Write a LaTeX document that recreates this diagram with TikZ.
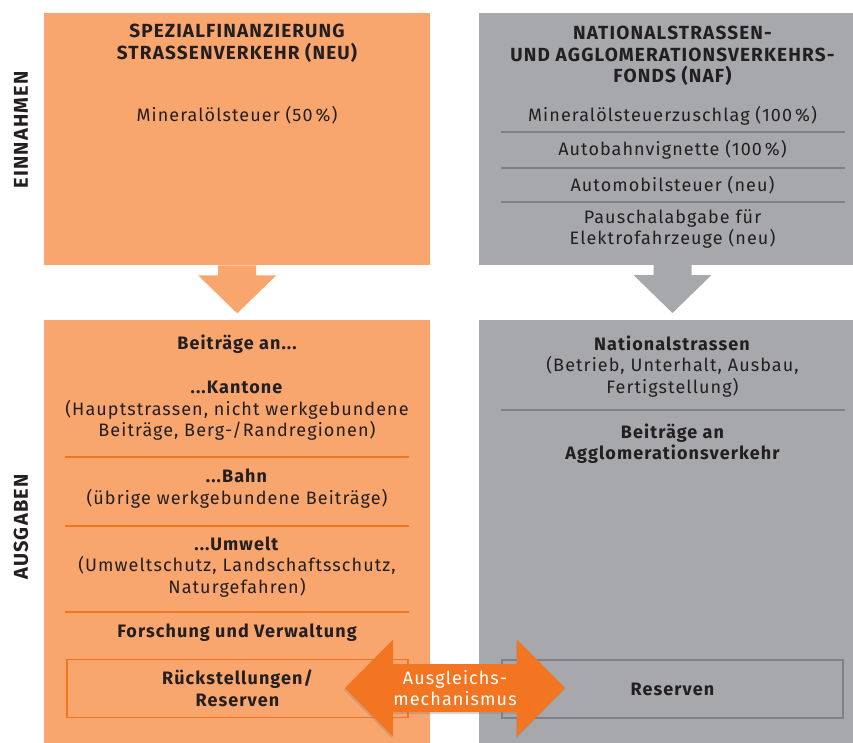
\documentclass[tikz,border=0pt]{standalone}
\usepackage{fontspec}
\setmainfont{Fira Sans}[LetterSpace=6]
\usetikzlibrary{shadows}
\definecolor{orangelight}{RGB}{248,166,110}
\definecolor{orangedark}{RGB}{243,117,33}
\definecolor{greybox}{RGB}{167,168,171}
\definecolor{greyline}{RGB}{128,129,132}
\definecolor{textdark}{RGB}{35,31,32}

\begin{document}
\begin{tikzpicture}[
  x=1pt, y=-1pt,
  panel/.style={anchor=north west, inner sep=0pt, minimum width=386},
  obox/.style={panel, fill=orangelight},
  gbox/.style={panel, fill=greybox},
  txt/.style={align=center, text=textdark, inner sep=0pt,
              font=\fontsize{18}{21.5}\selectfont},
  head/.style={txt, font=\fontsize{18}{21.5}\selectfont\bfseries},
  title/.style={txt, font=\fontsize{19}{21.5}\selectfont\bfseries},
  side/.style={head, rotate=90, font=\fontsize{20}{22}\selectfont\bfseries},
  osep/.style={draw=orangedark, line width=2pt},
  gsep/.style={draw=greyline, line width=2pt},
  resbox/.style={head, line width=1.5pt, minimum width=341, minimum height=58}
]
\useasboundingbox (0,0) rectangle (853,743);
\clip (0,0) rectangle (853,743);

% Einnahmen
\node[obox, minimum height=252] (spez) at (44,13) {};
\node[gbox, minimum height=252] (naf) at (479,13) {};
\node[side] (einnahmen) at (21,130) {EINNAHMEN};

\node[title] (spezhead) at (237,43.5) {SPEZIALFINANZIERUNG\\STRASSENVERKEHR (NEU)};
\node[txt] (mineral) at (237,115) {Mineralölsteuer (50\,\%)};

\node[title] (nafhead) at (672.5,56) {NATIONALSTRASSEN-\\UND AGGLOMERATIONSVERKEHRS-\\FONDS (NAF)};
\node[txt] (zuschlag) at (672.5,116) {Mineralölsteuerzuschlag (100\,\%)};
\node[txt] (vignette) at (672.5,150) {Autobahnvignette (100\,\%)};
\node[txt] (autosteuer) at (672.5,185) {Automobilsteuer (neu)};
\node[txt] (pauschal) at (672.5,229) {Pauschalabgabe für\\Elektrofahrzeuge (neu)};
\draw[gsep] (501,132) -- (845,132);
\draw[gsep] (501,168) -- (845,168);
\draw[gsep] (501,202) -- (845,202);

% Pfeile nach unten
\fill[orangelight] (spez.south) ++(-19,0) -- ++(0,10) -- ++(-20,0) -- ++(39,38)
  -- ++(39,-38) -- ++(-20,0) -- ++(0,-10) -- cycle;
\fill[greybox] (672.5,265) ++(-19,0) -- ++(0,10) -- ++(-20,0) -- ++(39,38)
  -- ++(39,-38) -- ++(-20,0) -- ++(0,-10) -- cycle;

% Ausgaben
\node[obox, minimum height=430] (sfsv) at (44,320) {};
\node[gbox, minimum height=430] (fonds) at (479,320) {};
\node[side] (ausgaben) at (21,527) {AUSGABEN};

\node[head] (beitraege) at (237,344) {Beiträge an...};
\node[txt] (kantone) at (237,411) {\textbf{...Kantone}\\(Hauptstrassen, nicht werkgebundene\\Beiträge, Berg-/Randregionen)};
\draw[osep] (65,457) -- (409,457);
\node[txt] (bahn) at (237,488.5) {\textbf{...Bahn}\\(übrige werkgebundene Beiträge)};
\draw[osep] (65,526) -- (409,526);
\node[txt] (umwelt) at (237,567) {\textbf{...Umwelt}\\(Umweltschutz, Landschaftsschutz,\\Naturgefahren)};
\draw[osep] (65,612) -- (409,612);
\node[head] (forschung) at (237,633) {Forschung und Verwaltung};
\node[resbox, draw=orangedark] (rueck) at (237.5,688.5) {Rückstellungen/\\Reserven};

\node[txt] (national) at (672.5,366.5) {\textbf{Nationalstrassen}\\(Betrieb, Unterhalt, Ausbau,\\Fertigstellung)};
\draw[gsep] (501,410) -- (845,410);
\node[head] (agglo) at (672.5,443.5) {Beiträge an\\Agglomerationsverkehr};
\node[resbox, draw=greyline] (reserven) at (672.5,689) {Reserven};

% Ausgleichsmechanismus
\coordinate (ausgl) at (455,688);
\fill[orangedark, drop shadow={opacity=0.3, shadow xshift=-1pt, shadow yshift=-2pt}]
  (ausgl) ++(-110,0) -- ++(48,-48.5) -- ++(0,24.5) -- ++(124,0) -- ++(0,-24.5)
  -- ++(48,48.5) -- ++(-48,48.5) -- ++(0,-24.5) -- ++(-124,0) -- ++(0,24.5) -- cycle;
\node[txt, text=white] (ausgltext) at (ausgl) {Ausgleichs-\\mechanismus};
\end{tikzpicture}
\end{document}
